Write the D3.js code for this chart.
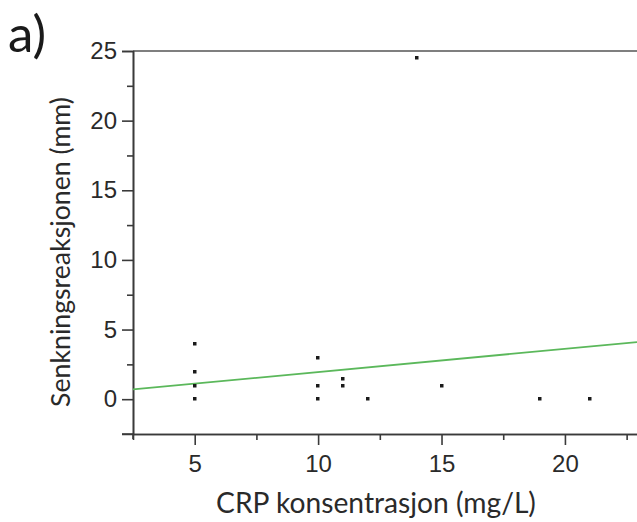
<!DOCTYPE html>
<html>
<head>
<meta charset="utf-8">
<script src="https://cdn.jsdelivr.net/npm/d3@7"></script>
<style>
  html, body { margin: 0; padding: 0; background: #fff; }
  svg { display: block; }
</style>
</head>
<body>
<svg id="chart" width="637" height="522"></svg>
<script>
// ---- data ----
const crp = [5, 5, 5, 5, 10, 10, 10, 11, 11, 12, 14, 15, 19, 21];
const senkning = [4, 2, 1, 0, 3, 1, 0, 1.5, 1, 0, 24.5, 1, 0, 0];
const fitLineX = [2.5, 22.92];
const fitLineY = [0.7, 4.1];
const xMajorTicks = [5, 10, 15, 20];
const xMinorTicks = [2.5, 7.5, 12.5, 17.5, 22.5];
const yMajorTicks = [0, 5, 10, 15, 20, 25];
const yMinorTicks = [2.5, 7.5, 12.5, 17.5, 22.5];
const panelLabel = "a)";
const xTitle = "CRP konsentrasjon (mg/L)";
const yTitle = "Senkningsreaksjonen (mm)";

const svg = d3.select("#chart");
const axisColor = "#3a3a3a";
const tickFont = "'Liberation Sans', Arial, sans-serif";
const titleFont = "Lato, 'Open Sans', sans-serif";

const x = d3.scaleLinear().domain([2.5, 22.92]).range([133, 637]);
const y = d3.scaleLinear().domain([-2.5, 25]).range([434, 51]);

// top frame line
svg.append("line")
  .attr("x1", x(2.5)).attr("x2", 637)
  .attr("y1", y(25)).attr("y2", y(25))
  .attr("stroke", "#555").attr("stroke-width", 1.6);

// y axis major
const gy = svg.append("g").attr("transform", `translate(${x(2.5)},0)`)
  .call(d3.axisLeft(y).tickValues(yMajorTicks).tickSize(11).tickSizeOuter(0).tickPadding(5));
// y axis minor (including corner)
const gy2 = svg.append("g").attr("transform", `translate(${x(2.5)},0)`)
  .call(d3.axisLeft(y).tickValues(yMinorTicks).tickSize(6).tickSizeOuter(11).tickFormat(""));
// x axis major
const gx = svg.append("g").attr("transform", `translate(0,${y(-2.5)})`)
  .call(d3.axisBottom(x).tickValues(xMajorTicks).tickSize(11).tickSizeOuter(0).tickPadding(10));
const gx2 = svg.append("g").attr("transform", `translate(0,${y(-2.5)})`)
  .call(d3.axisBottom(x).tickValues(xMinorTicks).tickSize(6).tickSizeOuter(0).tickFormat(""));

[gy, gy2, gx, gx2].forEach(g => {
  g.selectAll("path").attr("stroke", axisColor).attr("stroke-width", 1.6);
  g.selectAll("line").attr("stroke", axisColor).attr("stroke-width", 1.6);
  g.selectAll("text").attr("fill", "#2a2a2a").style("font-family", tickFont).style("font-size", "24px");
});
// corner extension of x axis to the left
svg.append("line")
  .attr("x1", x(2.5) - 11).attr("x2", x(2.5))
  .attr("y1", y(-2.5)).attr("y2", y(-2.5))
  .attr("stroke", axisColor).attr("stroke-width", 1.6);
svg.append("line")
  .attr("x1", x(2.5)).attr("x2", x(2.5))
  .attr("y1", y(-2.5)).attr("y2", y(-2.5) + 5)
  .attr("stroke", axisColor).attr("stroke-width", 1.6);

// regression line
svg.append("line")
  .attr("x1", x(fitLineX[0])).attr("y1", y(fitLineY[0]))
  .attr("x2", x(fitLineX[1])).attr("y2", y(fitLineY[1]))
  .attr("stroke", "#5bb85b").attr("stroke-width", 1.8);

// points
svg.append("g").selectAll("rect")
  .data(crp.map((c, i) => [c, senkning[i]]))
  .join("rect")
  .attr("x", d => Math.round(x(d[0]) - 1.75))
  .attr("y", d => Math.round(y(d[1]) - 1.75))
  .attr("width", 3.5).attr("height", 3.5)
  .attr("fill", "#1a1a1a");

// titles
function fitText(sel, target) {
  const w = sel.node().getComputedTextLength();
  const fs = parseFloat(sel.style("font-size"));
  sel.style("font-size", (fs * target / w) + "px");
}
const xt = svg.append("text")
  .attr("x", 376).attr("y", 513)
  .attr("text-anchor", "middle")
  .attr("fill", "#2a2a2a")
  .style("font-family", titleFont).style("font-size", "24px")
  .text(xTitle);
fitText(xt, 320);

const yt = svg.append("text")
  .attr("transform", "translate(70,252) rotate(-90)")
  .attr("text-anchor", "middle")
  .attr("fill", "#2a2a2a")
  .style("font-family", titleFont).style("font-size", "24px")
  .text(yTitle);
fitText(yt, 310);

svg.append("text")
  .attr("x", 8).attr("y", 52)
  .attr("fill", "#1a1a1a")
  .style("font-family", titleFont).style("font-size", "51px")
  .text(panelLabel);
</script>
</body>
</html>
